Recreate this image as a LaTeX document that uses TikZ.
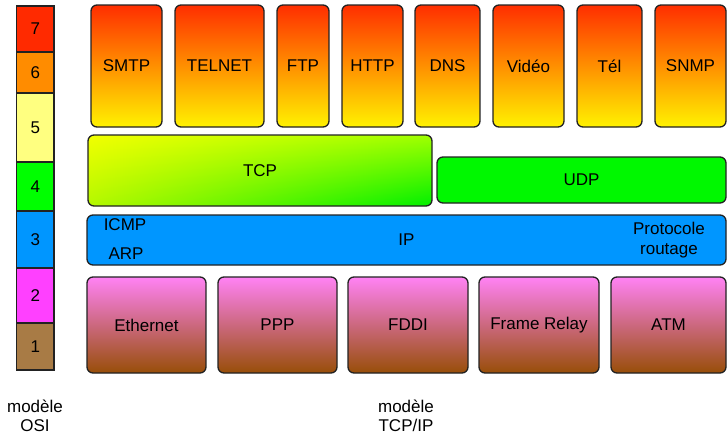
\documentclass[tikz,border=0pt]{standalone}
\usepackage{fontspec}
\setmainfont{Liberation Sans}
\usetikzlibrary{shadings}

\definecolor{boxline}{HTML}{222222}
\definecolor{appTop}{HTML}{FF2E00}
\definecolor{appBot}{HTML}{FFF200}
\definecolor{linkTop}{HTML}{FF82F4}
\definecolor{linkBot}{HTML}{984E08}
\definecolor{tcpUL}{HTML}{F2FF00}
\definecolor{tcpUR}{HTML}{A0FF00}
\definecolor{tcpLL}{HTML}{B4F800}
\definecolor{tcpLR}{HTML}{00F000}
\definecolor{udpFill}{HTML}{00F800}
\definecolor{ipFill}{HTML}{0096FF}
\definecolor{osiSeven}{HTML}{FF2A00}
\definecolor{osiSix}{HTML}{FF8C00}
\definecolor{osiFive}{HTML}{FFFF80}
\definecolor{osiFour}{HTML}{00FF00}
\definecolor{osiThree}{HTML}{0096FF}
\definecolor{osiTwo}{HTML}{FF40FF}
\definecolor{osiOne}{HTML}{A87B45}

\begin{document}
\begin{tikzpicture}[x=1pt,y=-1pt,
  txt/.style={font=\fontsize{17}{20}\selectfont, inner sep=0pt, align=center},
  box/.style={txt, draw=boxline, line width=1.3pt, rounded corners=6pt},
  app/.style={box, top color=appTop, bottom color=appBot, minimum height=122pt},
  link/.style={box, top color=linkTop, bottom color=linkBot, minimum height=96pt},
  osi/.style={txt, draw=boxline, line width=1.2pt, minimum width=37.5pt}
]
\useasboundingbox (0,0) rectangle (728,434);

% OSI layer column
\node[osi, fill=osiSeven, minimum height=46pt] (o7) at (35.3,29) {7};
\node[osi, fill=osiSix,   minimum height=41pt] (o6) at (35.3,72.5) {6};
\node[osi, fill=osiFive,  minimum height=69pt] (o5) at (35.3,127.5) {5};
\node[osi, fill=osiFour,  minimum height=49pt] (o4) at (35.3,186.5) {4};
\node[osi, fill=osiThree, minimum height=57pt] (o3) at (35.3,239.5) {3};
\node[osi, fill=osiTwo,   minimum height=55pt] (o2) at (35.3,295.5) {2};
\node[osi, fill=osiOne,   minimum height=47pt] (o1) at (35.3,346.5) {1};

% application protocols
\node[app, minimum width=71pt] (smtp)   at (126.5,66) {SMTP};
\node[app, minimum width=89pt] (telnet) at (219.5,66) {TELNET};
\node[app, minimum width=52pt] (ftp)    at (303,66)   {FTP};
\node[app, minimum width=61pt] (http)   at (372.5,66) {HTTP};
\node[app, minimum width=65pt] (dns)    at (447.5,66) {DNS};
\node[app, minimum width=71pt] (video)  at (528.5,66) {Vidéo};
\node[app, minimum width=65pt] (tel)    at (609.5,66) {Tél};
\node[app, minimum width=71pt] (snmp)   at (690.5,66) {SNMP};

% transport
\node[box, upper left=tcpUL, upper right=tcpUR, lower left=tcpLL, lower right=tcpLR,
      minimum width=344pt, minimum height=71pt] (tcp) at (260,170.5) {TCP};
\node[box, fill=udpFill, minimum width=289pt, minimum height=46pt] (udp) at (581.5,180) {UDP};

% network
\node[box, fill=ipFill, minimum width=639pt, minimum height=50pt] (ip) at (406.5,240) {IP};
\node[txt] (icmp) at (125,225) {ICMP};
\node[txt] (arp) at (126,254) {ARP};
\node[txt] (routage) at (669,240) {Protocole\\routage};

% link layer
\node[link, minimum width=119pt] (eth)   at (146.5,325) {Ethernet};
\node[link, minimum width=119pt] (ppp)   at (277.5,325) {PPP};
\node[link, minimum width=120pt] (fddi)  at (408,325)   {FDDI};
\node[link, minimum width=120pt] (frame) at (539,325)   {Frame Relay};
\node[link, minimum width=115pt] (atm)   at (668.5,325) {ATM};

% captions
\node[txt, font=\fontsize{17}{19}\selectfont] (capOSI) at (35,416) {modèle\\OSI};
\node[txt, font=\fontsize{17}{19}\selectfont] (capTCP) at (406,416) {modèle\\TCP/IP};
\end{tikzpicture}
\end{document}
